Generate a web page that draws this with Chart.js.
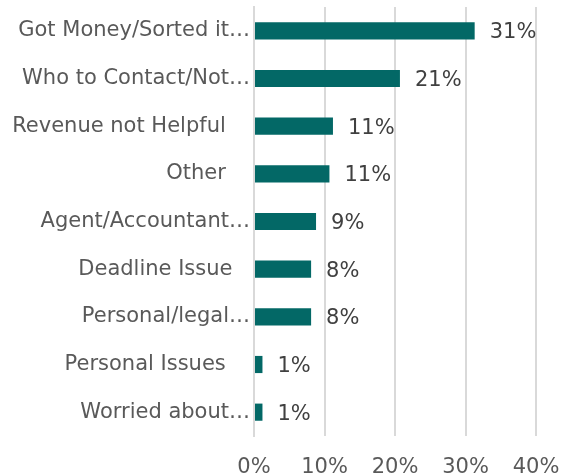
<!DOCTYPE html>
<html>
<head>
<meta charset="utf-8">
<script src="https://cdn.jsdelivr.net/npm/chart.js@4"></script>
<style>
  html, body { margin: 0; padding: 0; background: #fff; }
  #wrap { width: 563px; height: 473px; }
</style>
</head>
<body>
<div id="wrap"><canvas id="reasonsChart"></canvas></div>
<script>
const categories = [
  "Got Money/Sorted it…",
  "Who to Contact/Not…",
  "Revenue not Helpful   \u2009",
  "Other   \u2009",
  "Agent/Accountant…",
  "Deadline Issue  \u2009",
  "Personal/legal…",
  "Personal Issues   \u2009",
  "Worried about…"
];
const shares = [31.3, 20.7, 11.2, 10.7, 8.8, 8.1, 8.1, 1.2, 1.2];
const shareLabels = ["31%", "21%", "11%", "11%", "9%", "8%", "8%", "1%", "1%"];
const xTicks = [0, 10, 20, 30, 40];

const FONT = "'DejaVu Sans', Verdana, sans-serif";
const SIZE = 21;

// labels drawn to the right of each bar
const barLabels = {
  id: "barLabels",
  afterDatasetsDraw(chart) {
    const ctx = chart.ctx;
    const meta = chart.getDatasetMeta(0);
    ctx.save();
    ctx.font = SIZE + "px " + FONT;
    ctx.fillStyle = "#404040";
    ctx.textAlign = "left";
    ctx.textBaseline = "middle";
    meta.data.forEach((bar, i) => {
      ctx.fillText(shareLabels[i], bar.x + 15, bar.y + 2);
    });
    ctx.restore();
  }
};

new Chart(document.getElementById("reasonsChart"), {
  type: "bar",
  data: {
    labels: categories,
    datasets: [{
      data: shares,
      backgroundColor: "#036866",
      categoryPercentage: 1,
      barPercentage: 0.36
    }]
  },
  options: {
    indexAxis: "y",
    responsive: true,
    maintainAspectRatio: false,
    animation: false,
    layout: { padding: { top: 7, right: 27, bottom: 0, left: 0 } },
    plugins: {
      legend: { display: false },
      tooltip: { enabled: false }
    },
    scales: {
      x: {
        min: 0,
        max: 40,
        afterBuildTicks: s => { s.ticks = xTicks.map(v => ({ value: v })); },
        afterFit: s => { s.height = 37; },
        // invisible tick marks push the labels down without widening padding
        grid: { color: "#d9d9d9", lineWidth: 2, drawTicks: true, tickLength: 19, tickColor: "rgba(0,0,0,0)" },
        border: { display: false },
        ticks: {
          padding: 0,
          color: "#595959",
          font: { family: FONT, size: SIZE },
          callback: v => v + "%"
        }
      },
      y: {
        afterFit: s => { s.width = 254; },
        grid: { display: false, drawTicks: true, tickLength: 4 },
        border: { display: true, color: "#d9d9d9", width: 2 },
        ticks: {
          padding: 0,
          color: "#595959",
          font: { family: FONT, size: SIZE, lineHeight: 0.55 }
        }
      }
    }
  },
  plugins: [barLabels]
});
</script>
</body>
</html>
